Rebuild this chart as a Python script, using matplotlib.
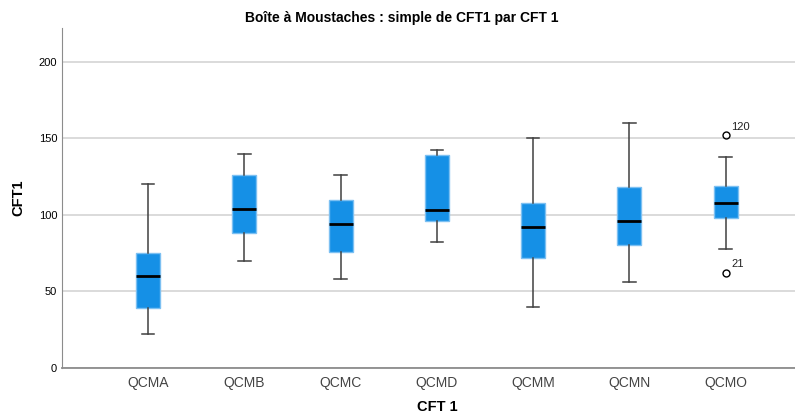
import matplotlib.pyplot as plt

plt.rcParams['font.family'] = ['Liberation Sans', 'DejaVu Sans']

# données
categories = ['QCMA', 'QCMB', 'QCMC', 'QCMD', 'QCMM', 'QCMN', 'QCMO']
whislo = [22, 70, 58, 82, 40, 56, 78]
q1 = [39, 88, 76, 96, 72, 80, 98]
med = [60, 104, 94, 103, 92, 96, 108]
q3 = [75, 126, 110, 139, 108, 118, 119]
whishi = [120, 140, 126, 142, 150, 160, 138]
fliers = [[], [], [], [], [], [], [152, 62]]
flier_ids = [[], [], [], [], [], [], ['120', '21']]

stats = []
for i, name in enumerate(categories):
    stats.append({'label': name, 'whislo': whislo[i], 'q1': q1[i], 'med': med[i],
                  'q3': q3[i], 'whishi': whishi[i], 'fliers': fliers[i]})

fig = plt.figure(figsize=(7.95, 4.17), dpi=100)
ax = fig.add_axes([0.078, 0.1175, 0.922, 0.8155])

pos = list(range(len(categories)))
ax.bxp(stats, positions=pos, widths=0.25, patch_artist=True,
       boxprops=dict(facecolor='#1590e6', edgecolor='#7cc0f2', linewidth=1),
       medianprops=dict(color='black', linewidth=2),
       whiskerprops=dict(color='#404040', linewidth=1.1),
       capprops=dict(color='#404040', linewidth=1.1),
       capwidths=0.13,
       flierprops=dict(marker='o', markerfacecolor='none', markeredgecolor='black',
                       markersize=5, markeredgewidth=1))

# étiquettes des valeurs extrêmes
for i in range(len(categories)):
    for v, lab in zip(fliers[i], flier_ids[i]):
        ax.annotate(lab, (pos[i], v), xytext=(4, 4), textcoords='offset points',
                    fontsize=8, color='#222222')

ax.set_xlim(-0.893, 6.72)
ax.set_ylim(0, 222)
ax.set_yticks([0, 50, 100, 150, 200])
ax.yaxis.grid(True, color='#d4d4d4', linewidth=1.2)
ax.set_axisbelow(True)
ax.tick_params(axis='y', length=0, labelsize=8, pad=3.5)
ax.tick_params(axis='x', length=0, labelsize=10, pad=6, colors='#444444')
for s in ['top', 'right']:
    ax.spines[s].set_visible(False)
ax.spines['left'].set_color('#8c8c8c')
ax.spines['bottom'].set_color('#8c8c8c')
ax.spines['bottom'].set_linewidth(1.3)

ax.set_ylabel('CFT1', fontsize=10.5, fontweight='bold', va='center')
ax.yaxis.set_label_coords(-0.06, 0.5)
ax.set_xlabel('CFT 1', fontsize=10.5, fontweight='bold', va='center')
ax.xaxis.set_label_coords(0.512, -0.115)
fig.text(0.505, 0.958, 'Boîte à Moustaches : simple de CFT1 par CFT 1', fontsize=10,
         fontweight='bold', ha='center', va='center')

plt.savefig('out.png')
